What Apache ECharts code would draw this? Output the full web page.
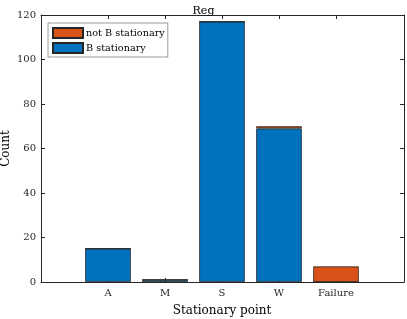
<!DOCTYPE html>
<html><head><meta charset="utf-8">
<script src="https://cdn.jsdelivr.net/npm/echarts@6/dist/echarts.min.js"></script>
<style>html,body{margin:0;padding:0;background:#fff}#c{width:407px;height:319px}</style>
</head><body><div id="c"></div>
<script>
var categories = ['A', 'M', 'S', 'W', 'Failure'];
var bStationary = [15, 1, 117, 69, 0];
var notBStationary = [0, 0, 0, 1, 7];

var font = 'DejaVu Serif';
var axisCol = '#262626';

var chart = echarts.init(document.getElementById('c'), null, { renderer: 'canvas' });
chart.setOption({
  animation: false,
  backgroundColor: '#fff',
  title: { text: 'Reg', left: 'center', top: 1, textStyle: { fontFamily: font, fontSize: 11, fontWeight: 'normal', color: '#000' } },
  grid: [
    { left: 41, right: 3, top: 15, bottom: 37, outerBoundsMode: 'none', containLabel: false },
    { left: 79.5, right: 42.5, top: 15, bottom: 37, outerBoundsMode: 'none', containLabel: false }
  ],
  legend: {
    orient: 'vertical', left: 48, top: 23, padding: [4, 3, 3, 4], itemGap: 3,
    itemWidth: 30, itemHeight: 10, borderColor: '#555', borderWidth: 0.6,
    backgroundColor: '#fff', icon: 'rect',
    data: ['not B stationary', 'B stationary'],
    textStyle: { fontFamily: font, fontSize: 9.7, lineHeight: 10, color: '#000', padding: [0, 0, 0, -2] }
  },
  xAxis: [{
    gridIndex: 0, type: 'value', min: 0, max: 1, position: 'bottom',
    axisLine: { show: true, onZero: false, lineStyle: { color: axisCol, width: 1 } },
    axisTick: { show: false }, axisLabel: { show: false }, splitLine: { show: false }
  }, {
    gridIndex: 0, type: 'value', min: 0, max: 1, position: 'top',
    axisLine: { show: true, onZero: false, lineStyle: { color: axisCol, width: 1 } },
    axisTick: { show: false }, axisLabel: { show: false }, splitLine: { show: false }
  }, {
    gridIndex: 1, type: 'category', data: categories, position: 'bottom',
    axisLine: { show: false },
    axisTick: { show: true, inside: true, length: 4, alignWithLabel: true, lineStyle: { color: axisCol } },
    axisLabel: { fontFamily: font, fontSize: 10, color: axisCol, margin: 6 },
    name: 'Stationary point', nameLocation: 'middle', nameGap: 23, nameMoveOverlap: false,
    nameTextStyle: { fontFamily: font, fontSize: 12, color: '#000' }
  }, {
    gridIndex: 1, type: 'category', data: categories, position: 'top',
    axisLine: { show: false },
    axisTick: { show: true, inside: true, length: 4, alignWithLabel: true, lineStyle: { color: axisCol } },
    axisLabel: { show: false }
  }],
  yAxis: [{
    gridIndex: 0, type: 'value', min: 0, max: 120, interval: 20, position: 'left',
    axisLine: { show: true, onZero: false, lineStyle: { color: axisCol, width: 1 } },
    axisTick: { show: true, inside: true, length: 4, lineStyle: { color: axisCol } },
    axisLabel: { fontFamily: font, fontSize: 10, color: axisCol, margin: 5 },
    splitLine: { show: false },
    name: 'Count', nameLocation: 'middle', nameGap: 29, nameRotate: 90, nameMoveOverlap: false,
    nameTextStyle: { fontFamily: font, fontSize: 12, color: '#000' }
  }, {
    gridIndex: 0, type: 'value', min: 0, max: 120, interval: 20, position: 'right',
    axisLine: { show: true, onZero: false, lineStyle: { color: axisCol, width: 1 } },
    axisTick: { show: true, inside: true, length: 4, lineStyle: { color: axisCol } },
    axisLabel: { show: false }, splitLine: { show: false }
  }, {
    gridIndex: 1, type: 'value', min: 0, max: 120, interval: 20, show: false
  }],
  series: [{
    name: 'B stationary', type: 'bar', stack: 's', barWidth: '80%',
    xAxisIndex: 2, yAxisIndex: 2,
    itemStyle: { color: '#0072BD', borderColor: '#262626', borderWidth: 0.8 },
    data: bStationary
  }, {
    name: 'not B stationary', type: 'bar', stack: 's', barWidth: '80%',
    xAxisIndex: 2, yAxisIndex: 2,
    itemStyle: { color: '#D95319', borderColor: '#262626', borderWidth: 0.8 },
    data: notBStationary
  }]
});
</script></body></html>
